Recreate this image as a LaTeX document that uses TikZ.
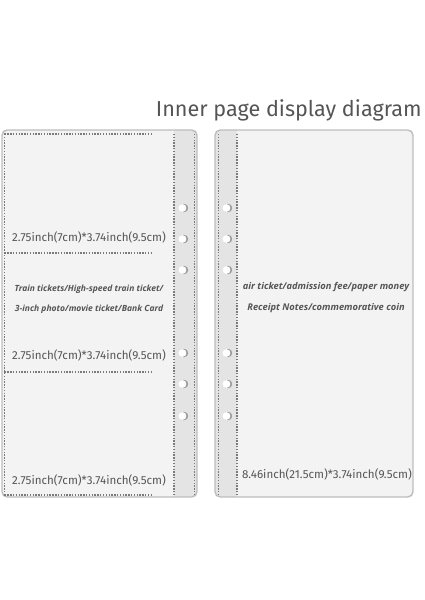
\documentclass[tikz,border=0pt]{standalone}
\usepackage{fontspec}
\setmainfont{Open Sans}
\newfontfamily\dimfont{Fira Sans}
\usetikzlibrary{positioning,calc}
\definecolor{pagefill}{HTML}{F3F3F3}
\definecolor{stripfill}{HTML}{E4E4E4}
\definecolor{edgegray}{HTML}{BDBDBD}
\definecolor{dotgray}{HTML}{7A7A7A}
\definecolor{textgray}{HTML}{555555}

\begin{document}
\begin{tikzpicture}[x=0.02cm,y=-0.02cm,
  edge/.style={draw=edgegray,line width=0.8pt,rounded corners=3},
  dotline/.style={draw=dotgray,line width=0.9pt,dash pattern=on 0.8pt off 0.8pt},
  dimtext/.style={font=\dimfont\fontsize{6.6}{8}\selectfont,text=textgray,inner sep=0},
  itemtext/.style={font=\bfseries\itshape\fontsize{4.85}{6}\selectfont,text=textgray,inner sep=0}]
  \fill[white] (0,0) rectangle (424,600);
  \useasboundingbox (0,0) rectangle (424,600);

  \node[font=\dimfont\fontsize{12.3}{14}\selectfont,text=textgray,anchor=east,inner sep=0] (title) at (422,110) {Inner page display diagram};

  % left page
  \begin{scope}
    \clip[rounded corners=3] (2,130) rectangle (197,497);
    \fill[pagefill] (2,130) rectangle (197,497);
    \fill[stripfill] (174,130) rectangle (197,497);
  \end{scope}
  \draw[edge] (2,130) rectangle (197,497);
  \draw[dotline] (4.5,134) -- (4.5,495) (4.5,134) -- (153,134) (4.5,495) -- (153,495);
  \draw[dotline] (4.5,253) -- (153,253) (4.5,372) -- (153,372);
  \draw[dotline] (174,134) -- (174,495) (194.5,134) -- (194.5,495);

  % right page
  \begin{scope}
    \clip[rounded corners=3] (215,130) rectangle (413,497);
    \fill[pagefill] (215,130) rectangle (413,497);
    \fill[stripfill] (215,130) rectangle (237,497);
  \end{scope}
  \draw[edge] (215,130) rectangle (413,497);
  \draw[dotline] (218.5,134) -- (218.5,495) (237,134) -- (237,495);

  % holes
  \foreach \hx in {184,228}
    \foreach \hy in {208,239,270,353,384,416} {
      \fill[gray!80] (\hx,\hy) circle (4.2);
      \fill[white] (\hx-1.5,\hy) circle (3.9);
    }

  % left texts
  \node[dimtext] (dimA) at (89,237) {2.75inch(7cm)*3.74inch(9.5cm)};
  \node[itemtext] (itemA) at (89,289) {Train tickets/High-speed train ticket/};
  \node[itemtext] (itemB) at (89,309) {3-inch photo/movie ticket/Bank Card};
  \node[dimtext] (dimB) at (89,355) {2.75inch(7cm)*3.74inch(9.5cm)};
  \node[dimtext] (dimC) at (89,480) {2.75inch(7cm)*3.74inch(9.5cm)};

  % right texts
  \node[itemtext,font=\bfseries\itshape\fontsize{5.3}{6}\selectfont] (itemC) at (326,287) {air ticket/admission fee/paper money};
  \node[itemtext,font=\bfseries\itshape\fontsize{5.3}{6}\selectfont] (itemD) at (326,308) {Receipt Notes/commemorative coin};
  \node[dimtext] (dimD) at (327,474) {8.46inch(21.5cm)*3.74inch(9.5cm)};
\end{tikzpicture}
\end{document}
